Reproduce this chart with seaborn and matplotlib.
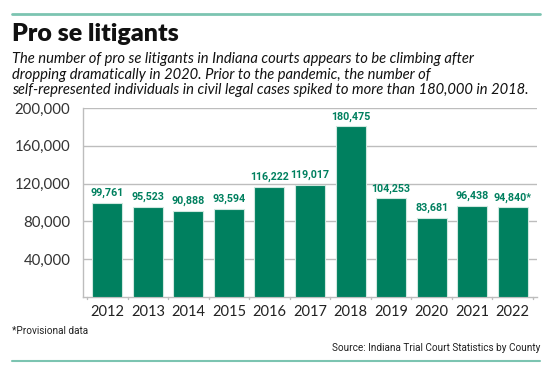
import matplotlib as mpl
import matplotlib.pyplot as plt
import seaborn as sns
import pandas as pd
from matplotlib.lines import Line2D

years = ['2012', '2013', '2014', '2015', '2016', '2017', '2018', '2019', '2020', '2021', '2022']
litigants = [99761, 95523, 90888, 93594, 116222, 119017, 180475, 104253, 83681, 96438, 94840]
labels = ['99,761', '95,523', '90,888', '93,594', '116,222', '119,017', '180,475',
          '104,253', '83,681', '96,438', '94,840*']
yticks = [40000, 80000, 120000, 160000, 200000]

df = pd.DataFrame({'year': years, 'count': litigants})

sns.set_style('white')
plt.rcParams['font.family'] = ['Lato', 'DejaVu Sans']
narrow = ['Roboto', 'DejaVu Sans']

green = '#00805f'
teal = '#7cc4b1'
grid = '#bdbdbd'

fig = plt.figure(figsize=(5.54, 3.73), dpi=100)
ax = fig.add_axes([83/554, 1 - 297/373, (537-83)/554, (297-108)/373])

sns.barplot(data=df, x='year', y='count', color=green, saturation=1, width=0.74,
            edgecolor='#cfe8df', linewidth=0.8, ax=ax, zorder=3)

# value labels over the bars
for i, (v, lab) in enumerate(zip(litigants, labels)):
    ax.annotate(lab, (i, v), xytext=(0, 3.5), textcoords='offset points',
                ha='center', va='bottom', color=green, fontsize=7.7,
                family=narrow, fontweight='bold')

ax.set_ylim(0, 200000)
ax.set_yticks(yticks)
ax.set_yticklabels([f'{t:,}' for t in yticks])
ax.set_xlim(-0.6, len(years) - 0.4)
ax.yaxis.grid(True, color=grid, linewidth=1, zorder=0)
ax.set_axisbelow(True)
ax.set_xlabel('')
ax.set_ylabel('')
ax.tick_params(axis='y', length=0, labelsize=10.8, colors='#333333', pad=9)
ax.tick_params(axis='x', length=0, labelsize=10.5, colors='#222222', pad=6)
sns.despine(ax=ax, top=True, right=True)
for s in ['left', 'bottom']:
    ax.spines[s].set_color(grid)
    ax.spines[s].set_linewidth(1)

# small tick marks between the categories
for i in range(len(years) + 1):
    ax.plot([i - 0.5, i - 0.5], [0, -2500], color=grid, lw=1, clip_on=False)

fig.add_artist(Line2D([12/554, 540/554], [1 - 14/373, 1 - 14/373], color=teal, lw=2))
fig.add_artist(Line2D([12/554, 540/554], [1 - 361/373, 1 - 361/373], color=teal, lw=1.5))

fig.text(12/554, 1 - 34/373, 'Pro se litigants', fontsize=18, fontweight='heavy',
         va='center', ha='left', color='#111111')
sub = ('The number of pro se litigants in Indiana courts appears to be climbing after\n'
       'dropping dramatically in 2020. Prior to the pandemic, the number of\n'
       'self-represented individuals in civil legal cases spiked to more than 180,000 in 2018.')
fig.text(12/554, 1 - 52/373, sub, fontsize=10.6, style='italic', va='top', ha='left',
         color='#111111', linespacing=1.15)

fig.text(12/554, 1 - 331/373, '*Provisional data', fontsize=7.2, family=narrow,
         va='center', ha='left', color='#222222')
fig.text(540/554, 1 - 348/373, 'Source: Indiana Trial Court Statistics by County', fontsize=7.2,
         family=narrow, va='center', ha='right', color='#222222')

fig.savefig('out.png', dpi=100)
